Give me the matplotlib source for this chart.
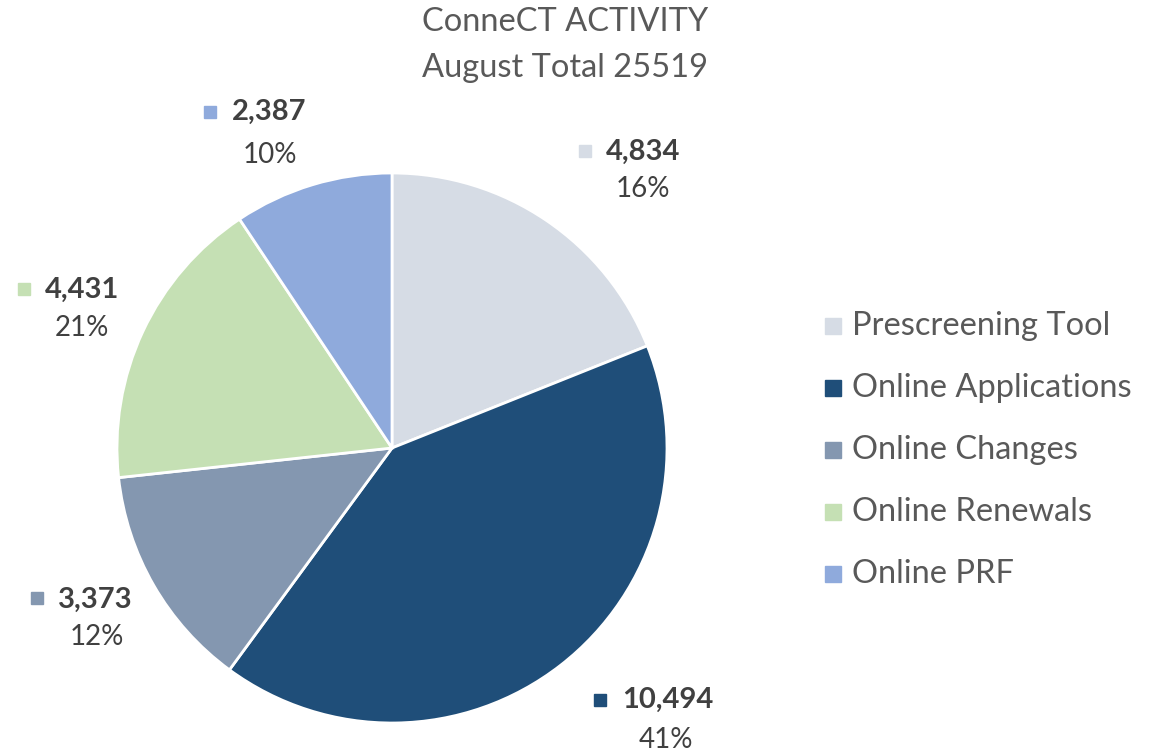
import matplotlib
matplotlib.use("Agg")
import matplotlib.pyplot as plt

categories = ["Prescreening Tool", "Online Applications", "Online Changes", "Online Renewals", "Online PRF"]
values = [4834, 10494, 3373, 4431, 2387]
value_labels = ["4,834", "10,494", "3,373", "4,431", "2,387"]
pct_labels = ["16%", "41%", "12%", "21%", "10%"]
colors = ["#D6DCE5", "#1F4E79", "#8497B0", "#C5E0B4", "#8FAADC"]
title_lines = ["ConneCT ACTIVITY", "August Total 25519"]

W, H = 1173, 753
plt.rcParams['font.family'] = ['Lato', 'DejaVu Sans']
fig = plt.figure(figsize=(W / 100, H / 100), dpi=100)
ax = fig.add_axes([0, 0, 1, 1])

def Y(py):
    return H - py

ax.pie(values, colors=colors, startangle=90, counterclock=False,
       center=(392, Y(448)), radius=275, frame=True,
       wedgeprops=dict(edgecolor='white', linewidth=2))
ax.set_xlim(0, W)
ax.set_ylim(0, H)
ax.set_aspect('equal')
ax.axis('off')

txt = "#404040"
gray = "#595959"
# data label positions (pixel coords): square marker, value text left, pct center
label_pos = {
    0: ((585, 151), (606, 152), (643, 189)),
    1: ((600, 700), (622, 700), (666, 740)),
    2: ((37, 598), (58, 600), (97, 637)),
    3: ((24, 289), (45, 290), (82, 328)),
    4: ((210, 112), (232, 112), (270, 155)),
}
for i, (sq, vp, pp) in label_pos.items():
    ax.plot(sq[0], Y(sq[1]), marker='s', markersize=9, color=colors[i], linestyle='none')
    ax.text(vp[0], Y(vp[1]), value_labels[i], fontsize=21, fontweight='bold',
            color=txt, ha='left', va='center')
    ax.text(pp[0], Y(pp[1]), pct_labels[i], fontsize=20, color=txt,
            ha='center', va='center')

# legend
for i, cat in enumerate(categories):
    y = 326 + i * 62
    ax.plot(833, Y(y), marker='s', markersize=11, color=colors[i], linestyle='none')
    ax.text(852, Y(y), cat, fontsize=23.5, color=gray, ha='left', va='center')

# title
ax.text(565, Y(22), title_lines[0], fontsize=23.5, color=gray, ha='center', va='center')
ax.text(565, Y(68), title_lines[1], fontsize=23.5, color=gray, ha='center', va='center')

fig.savefig("out.png", dpi=100)
